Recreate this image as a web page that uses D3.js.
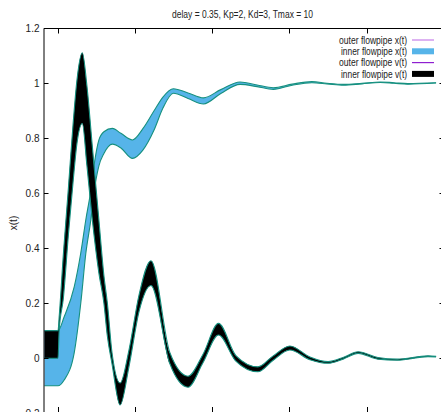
<!DOCTYPE html>
<html>
<head>
<meta charset="utf-8">
<script src="https://cdn.jsdelivr.net/npm/d3@7"></script>
<style>
  body { margin: 0; background: #fff; }
  text { font-family: "Liberation Sans", Arial, sans-serif; fill: #222; }
</style>
</head>
<body>
<svg id="chart" width="441" height="412"></svg>
<script>
// flowpipe bounds, t in seconds
const xT  = [-0.35, 0, 0.16, 0.42, 0.59, 0.72, 0.85, 0.93, 1.06, 1.19, 1.41, 1.63, 1.93, 2.20, 2.49, 2.72, 2.99, 3.37, 3.77, 4.22, 4.72, 5.16, 5.58, 6.07, 6.58, 6.97, 7.40, 7.88, 8.35, 8.71, 9.07, 9.80];
const xHi = [0.1, 0.1, 0.151, 0.26, 0.383, 0.503, 0.61, 0.697, 0.794, 0.824, 0.836, 0.818, 0.794, 0.835, 0.90, 0.95, 0.98, 0.965, 0.947, 0.977, 1.005, 0.994, 0.984, 0.997, 1.006, 1.0, 0.996, 1.0, 1.005, 1.002, 0.999, 1.002];
const xLo = [-0.1, -0.1, -0.079, 0.02, 0.2, 0.38, 0.503, 0.60, 0.70, 0.745, 0.779, 0.765, 0.727, 0.757, 0.83, 0.91, 0.964, 0.945, 0.925, 0.963, 0.996, 0.988, 0.978, 0.993, 1.002, 0.998, 0.993, 0.998, 1.003, 1.0, 0.997, 1.001];

const vT  = [-0.35, 0, 0.03, 0.14, 0.27, 0.39, 0.49, 0.63, 0.75, 0.89, 1.06, 1.19, 1.28, 1.40, 1.61, 1.84, 2.10, 2.41, 2.90, 3.37, 3.76, 4.16, 4.61, 5.18, 5.57, 6.01, 6.53, 7.00, 7.39, 7.78, 8.29, 8.79, 9.59, 9.80];
const vHi = [0.1, 0.1, 0.15, 0.38, 0.62, 0.85, 1.01, 1.111, 0.99, 0.77, 0.503, 0.30, 0.20, 0.02, -0.09, 0.03, 0.23, 0.355, 0.02, -0.065, 0.015, 0.127, 0.01, -0.031, 0.008, 0.045, 0.005, -0.012, 0.003, 0.024, 0.003, -0.003, 0.009, 0.007];
const vLo = [0, 0, 0.1, 0.22, 0.45, 0.64, 0.78, 0.854, 0.70, 0.503, 0.31, 0.2, 0.08, -0.02, -0.17, -0.03, 0.17, 0.265, -0.02, -0.105, -0.015, 0.085, -0.01, -0.049, -0.008, 0.03, -0.005, -0.018, -0.003, 0.018, -0.003, -0.007, 0.006, 0.005];

const yTicks = [-0.2, 0, 0.2, 0.4, 0.6, 0.8, 1, 1.2];
const xTicks = [0, 2, 4, 6, 8, 10];
const title = "delay = 0.35, Kp=2, Kd=3, Tmax = 10";
const legendItems = [
  { label: "outer flowpipe x(t)", kind: "line", color: "#c67fea", len: 68 },
  { label: "inner flowpipe x(t)", kind: "box", color: "#56b4e9", len: 66 },
  { label: "outer flowpipe v(t)", kind: "line", color: "#8f1fd0", len: 68 },
  { label: "inner flowpipe v(t)", kind: "box", color: "#000000", len: 66 }
];

const edgeColor = "#16907f";

const svg = d3.select("#chart");

const x = d3.scaleLinear().domain([-0.35, 10]).range([44.5, 443.8]);
const y = d3.scaleLinear().domain([-0.2, 1.2]).range([413.3, 28.3]);

const curve = d3.curveMonotoneX;

function band(ts, lo, hi) {
  return ts.map((t, i) => ({ t, lo: lo[i], hi: hi[i] }));
}
const xBand = band(xT, xLo, xHi);
const vBand = band(vT, vLo, vHi);

const area = d3.area().curve(curve)
  .x(d => x(d.t)).y0(d => y(d.lo)).y1(d => y(d.hi));
const lineLo = d3.line().curve(curve).x(d => x(d.t)).y(d => y(d.lo));
const lineHi = d3.line().curve(curve).x(d => x(d.t)).y(d => y(d.hi));

// x(t) flowpipe
svg.append("path").datum(xBand).attr("d", area).attr("fill", "#56b4e9");
svg.append("g").attr("fill", "none").attr("stroke", edgeColor).attr("stroke-width", 1.1)
  .selectAll("path").data([lineLo, lineHi]).join("path")
  .attr("d", f => f(xBand));

// v(t) flowpipe
svg.append("path").datum(vBand).attr("d", area).attr("fill", "#000");
svg.append("g").attr("fill", "none").attr("stroke", edgeColor).attr("stroke-width", 1.1)
  .selectAll("path").data([lineLo, lineHi]).join("path")
  .attr("d", f => f(vBand));

// frame
svg.append("line").attr("x1", 44).attr("x2", 44).attr("y1", 28.3).attr("y2", 414)
  .attr("stroke", "#000").attr("stroke-width", 1);
svg.append("line").attr("x1", 44).attr("x2", 444).attr("y1", 28.5).attr("y2", 28.5)
  .attr("stroke", "#000").attr("stroke-width", 1);

// ticks: left/right for y, top/bottom for t
const tickG = svg.append("g").attr("stroke", "#000").attr("stroke-width", 1);
tickG.selectAll(".yl").data(yTicks).join("line")
  .attr("x1", 44).attr("x2", 48.5)
  .attr("y1", d => Math.round(y(d)) + 0.5).attr("y2", d => Math.round(y(d)) + 0.5);
tickG.selectAll(".yr").data(yTicks).join("line")
  .attr("x1", 439.5).attr("x2", 444)
  .attr("y1", d => Math.round(y(d)) + 0.5).attr("y2", d => Math.round(y(d)) + 0.5);
tickG.selectAll(".xt").data(xTicks).join("line")
  .attr("x1", d => Math.round(x(d)) + 0.5).attr("x2", d => Math.round(x(d)) + 0.5)
  .attr("y1", 28.5).attr("y2", 33.5);
tickG.selectAll(".xb").data(xTicks).join("line")
  .attr("x1", d => Math.round(x(d)) + 0.5).attr("x2", d => Math.round(x(d)) + 0.5)
  .attr("y1", 407).attr("y2", 414);

// -0.2 is cut at the lower edge, as in the original
svg.append("g").attr("font-size", 10).attr("text-anchor", "end")
  .selectAll("text").data(yTicks).join("text")
  .attr("x", 39.5).attr("y", d => y(d) + 3.6)
  .text(d => d3.format("")(d));

svg.append("text")
  .attr("transform", "translate(17,223) rotate(-90)")
  .attr("text-anchor", "middle").attr("font-size", 10)
  .text("x(t)");

svg.append("text")
  .attr("x", 172).attr("y", 17.5).attr("font-size", 10.5)
  .attr("textLength", 141).attr("lengthAdjust", "spacingAndGlyphs")
  .text(title);

// key
const key = svg.append("g").attr("font-size", 10);
legendItems.forEach((d, i) => {
  const cy = 40 + i * 11.3;
  key.append("text")
    .attr("x", 407 - d.len).attr("y", cy + 3.6)
    .attr("textLength", d.len).attr("lengthAdjust", "spacingAndGlyphs")
    .text(d.label);
  if (d.kind === "line") {
    key.append("line").attr("x1", 412).attr("x2", 434).attr("y1", cy).attr("y2", cy)
      .attr("stroke", d.color).attr("stroke-width", 1.2);
  } else {
    key.append("rect").attr("x", 412).attr("y", cy - 3).attr("width", 22).attr("height", 6)
      .attr("fill", d.color);
  }
});
</script>
</body>
</html>
